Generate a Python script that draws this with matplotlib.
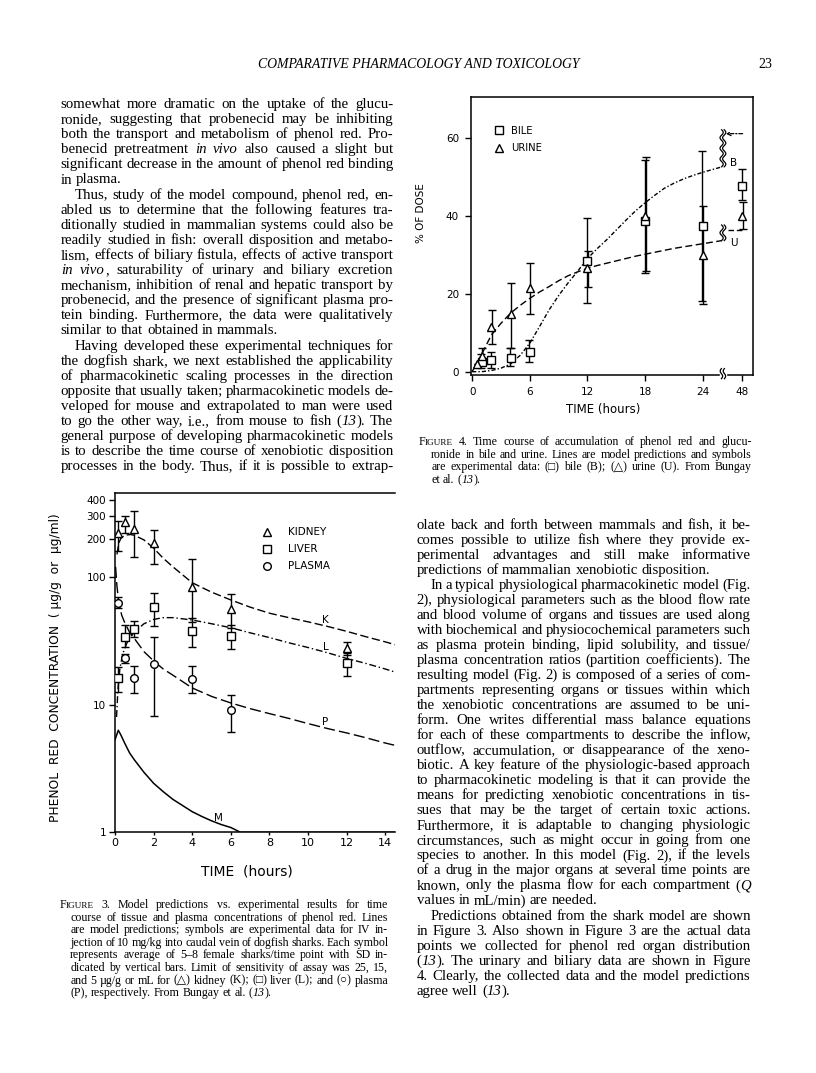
import numpy as np
import matplotlib
matplotlib.use("Agg")
import matplotlib.pyplot as plt
from matplotlib.font_manager import FontProperties

W, H = 816, 1073
SERIF = ["Liberation Serif", "DejaVu Sans"]
SANS = ["DejaVu Sans"]

# ----- Figure 3: phenol red concentration (log scale) -----------------------
KID_T = [0.17, 0.5, 1, 2, 4, 6, 12]
KID_V = [220, 267, 237, 183, 84, 56, 28]
KID_LO = [160, 222, 143, 127, 44, 40, 24.5]
KID_HI = [275, 300, 326, 232, 137, 74, 31]

LIV_T = [0.17, 0.5, 1, 2, 4, 6, 12]
LIV_V = [16.3, 34, 39, 57.7, 37.9, 34.6, 21.3]
LIV_LO = [12.6, 28.3, 34, 41, 28.3, 27.1, 16.7]
LIV_HI = [19.8, 42, 45.2, 75, 47.4, 42, 25.2]

PLA_T = [0.17, 0.5, 1, 2, 4, 6]
PLA_V = [63, 23, 16.2, 20.8, 15.8, 9.1]
PLA_LO = [56.8, 21, 12.4, 8.1, 12.3, 6.1]
PLA_HI = [70, 25, 20.2, 34, 20, 11.9]

K_T = [0.1, 0.2, 0.3, 0.5, 0.8, 1.0, 1.5, 2, 2.5, 3, 4, 5, 6, 7, 8, 9, 10, 11, 12, 13, 14, 14.5]
K_V = [150, 185, 200, 212, 215, 212, 195, 168, 140, 120, 90, 76, 66, 58, 52, 48, 44.5, 41, 37.5, 34, 31, 29.5]
L_T = [0.08, 0.15, 0.25, 0.4, 0.6, 0.8, 1.0, 1.5, 2, 2.5, 3, 4, 5, 6, 7, 8, 9, 10, 11, 12, 13, 14, 14.5]
L_V = [8, 13, 19, 25, 30, 34, 37, 43, 46.5, 48, 48, 46, 43, 40, 36.5, 33.5, 30.5, 28, 25.5, 23, 21, 19, 18]
P_T = [0.03, 0.1, 0.2, 0.35, 0.5, 0.75, 1, 1.5, 2, 2.5, 3, 4, 5, 6, 7, 8, 9, 10, 11, 12, 13, 14, 14.5]
P_V = [120, 85, 62, 50, 44, 37, 33, 26, 22, 19, 17, 13.5, 11.6, 10.3, 9.3, 8.5, 7.8, 7.1, 6.5, 6, 5.5, 5, 4.8]
M_T = [0, 0.17, 0.3, 0.5, 0.75, 1, 1.5, 2, 2.5, 3, 3.5, 4, 4.5, 5, 5.5, 6, 6.5, 14.5]
M_V = [5.3, 6.3, 5.8, 5.0, 4.2, 3.7, 2.95, 2.42, 2.08, 1.81, 1.62, 1.45, 1.33, 1.23, 1.15, 1.09, 1.0, 1.0]

# ----- Figure 4: % of dose in bile and urine --------------------------------
BILE_T = [1, 2, 4, 6, 12, 18, 24, 48]
BILE_V = [2.5, 3, 3.4, 5, 28.4, 38.7, 37.4, 47.7]
BILE_LO = [1, 1, 1.5, 2.5, 17.5, 25.3, 18, 44]
BILE_HI = [4.5, 5, 6, 8, 39.3, 54.3, 56.5, 51.9]

URI_T = [0.5, 1, 2, 4, 6, 12, 18, 24, 48]
URI_V = [2, 4, 11.5, 14.7, 21.4, 26.6, 40, 30, 40]
URI_LO = [2, 2.3, 7, 6, 14.7, 21.7, 25.7, 17.3, 36.5]
URI_HI = [2, 6, 15.8, 22.8, 27.9, 31, 55, 42.5, 43.5]

CURVE_T = [0, 1, 2, 3, 4, 5, 6, 7, 8, 9, 10, 11, 12, 13, 14, 15, 16, 17, 18,
           19, 20, 21, 22, 23, 24, 25, 26]
B_V = [0, 0, 0.3, 0.9, 2.0, 4.2, 7.3, 11.5, 15.8, 19.5, 22.8, 25.8, 29, 31.5,
       33.8, 36.3, 38.8, 41.2, 43.3, 45.2, 47, 48.3, 49.4, 50.3, 51.1, 51.8, 52.5]
U_V = [0, 4.5, 9.4, 12.4, 15, 17, 18.8, 20.4, 21.8, 23.3, 24.6, 25.6, 26.5,
       27.2, 27.8, 28.4, 29, 29.6, 30.1, 30.6, 31.1, 31.6, 32, 32.4, 32.8, 33.2, 33.6]
B_INF, U_INF = 61, 36.3
TICKS4 = [0, 6, 12, 18, 24, 48]

BREAK_AT, POS_48 = 26.1, 28.1

# ----- page text --------------------------------------------------------------
HEADER = "COMPARATIVE PHARMACOLOGY AND TOXICOLOGY"
PAGE_NO = "23"

LEFT_TEXT = [
    "somewhat more dramatic on the uptake of the glucu-",
    "ronide, suggesting that probenecid may be inhibiting",
    "both the transport and metabolism of phenol red. Pro-",
    "benecid pretreatment *in* *vivo* also caused a slight but",
    "significant decrease in the amount of phenol red binding",
    "in plasma.|",
    ">Thus, study of the model compound, phenol red, en-",
    "abled us to determine that the following features tra-",
    "ditionally studied in mammalian systems could also be",
    "readily studied in fish: overall disposition and metabo-",
    "lism, effects of biliary fistula, effects of active transport",
    "*in* *vivo*, saturability of urinary and biliary excretion",
    "mechanism, inhibition of renal and hepatic transport by",
    "probenecid, and the presence of significant plasma pro-",
    "tein binding. Furthermore, the data were qualitatively",
    "similar to that obtained in mammals.|",
    ">Having developed these experimental techniques for",
    "the dogfish shark, we next established the applicability",
    "of pharmacokinetic scaling processes in the direction",
    "opposite that usually taken; pharmacokinetic models de-",
    "veloped for mouse and extrapolated to man were used",
    "to go the other way, i.e., from mouse to fish (*13*). The",
    "general purpose of developing pharmacokinetic models",
    "is to describe the time course of xenobiotic disposition",
    "processes in the body. Thus, if it is possible to extrap-",
]

RIGHT_TEXT = [
    "olate back and forth between mammals and fish, it be-",
    "comes possible to utilize fish where they provide ex-",
    "perimental advantages and still make informative",
    "predictions of mammalian xenobiotic disposition.|",
    ">In a typical physiological pharmacokinetic model (Fig.",
    "2), physiological parameters such as the blood flow rate",
    "and blood volume of organs and tissues are used along",
    "with biochemical and physiocochemical parameters such",
    "as plasma protein binding, lipid solubility, and tissue/",
    "plasma concentration ratios (partition coefficients). The",
    "resulting model (Fig. 2) is composed of a series of com-",
    "partments representing organs or tissues within which",
    "the xenobiotic concentrations are assumed to be uni-",
    "form. One writes differential mass balance equations",
    "for each of these compartments to describe the inflow,",
    "outflow, accumulation, or disappearance of the xeno-",
    "biotic. A key feature of the physiologic-based approach",
    "to pharmacokinetic modeling is that it can provide the",
    "means for predicting xenobiotic concentrations in tis-",
    "sues that may be the target of certain toxic actions.",
    "Furthermore, it is adaptable to changing physiologic",
    "circumstances, such as might occur in going from one",
    "species to another. In this model (Fig. 2), if the levels",
    "of a drug in the major organs at several time points are",
    "known, only the plasma flow for each compartment (*Q*",
    "values in mL/min) are needed.|",
    ">Predictions obtained from the shark model are shown",
    "in Figure 3. Also shown in Figure 3 are the actual data",
    "points we collected for phenol red organ distribution",
    "(*13*). The urinary and biliary data are shown in Figure",
    "4. Clearly, the collected data and the model predictions",
    "agree well (*13*).|",
]

CAP3 = [
    "F^IGURE^ 3.  Model predictions vs. experimental results for time",
    "course of tissue and plasma concentrations of phenol red. Lines",
    "are model predictions; symbols are experimental data for IV in-",
    "jection of 10 mg/kg into caudal vein of dogfish sharks. Each symbol",
    "represents average of 5–8 female sharks/time point with SD in-",
    "dicated by vertical bars. Limit of sensitivity of assay was 25, 15,",
    "and 5 µg/g or mL for (△) kidney (K); (□) liver (L); and (○) plasma",
    "(P), respectively. From Bungay et al. (*13*).|",
]

CAP4 = [
    "F^IGURE^ 4.  Time course of accumulation of phenol red and glucu-",
    "ronide in bile and urine. Lines are model predictions and symbols",
    "are experimental data: (□) bile (B); (△) urine (U). From Bungay",
    "et al. (*13*).|",
]


fig = plt.figure(figsize=(W / 100, H / 100), dpi=100)
fig.patch.set_facecolor("white")
renderer = fig.canvas.get_renderer()


def axes_px(l, t, r, b):
    return fig.add_axes([l / W, 1 - b / H, (r - l) / W, (b - t) / H])


def fprop(size, style):
    if style == "i":
        return FontProperties(family=SERIF, style="italic", size=size)
    if style == "s":
        return FontProperties(family=SERIF, size=size * 0.78)
    return FontProperties(family=SERIF, size=size)


def parse_word(word):
    segs, cur, style = [], "", "n"
    for ch in word:
        if ch in "*^":
            if cur:
                segs.append((cur, style))
            cur = ""
            new = "i" if ch == "*" else "s"
            style = "n" if style == new else new
        else:
            cur += ch
    if cur:
        segs.append((cur, style))
    return segs


def text_w(s, fp):
    return renderer.get_text_width_height_descent(s, fp, ismath=False)[0]


def prep(lines, x0, size, para_indent, first_indent, rest_indent):
    out = []
    for i, raw in enumerate(lines):
        start = raw.startswith(">")
        end = raw.endswith("|")
        s = raw.strip(">|")
        left = x0 + (para_indent if start else 0) + (first_indent if i == 0 else rest_indent)
        words = [parse_word(w) for w in s.split(" ") if w]
        widths = [sum(text_w(t, fprop(size, st)) for t, st in w) for w in words]
        out.append((left, end, words, widths))
    return out


def draw_block(lines, x0, x1, y0, lead, size, para_indent=14, first_indent=0, rest_indent=0):
    sp = text_w("n n", fprop(size, "n")) - text_w("nn", fprop(size, "n"))
    rows = prep(lines, x0, size, para_indent, first_indent, rest_indent)
    worst = max((sum(w) + 0.8 * sp * (len(w) - 1)) / (x1 - left)
                for left, end, words, w in rows if not end)
    if worst > 1:
        size = size / worst
        sp = text_w("n n", fprop(size, "n")) - text_w("nn", fprop(size, "n"))
        rows = prep(lines, x0, size, para_indent, first_indent, rest_indent)
    for i, (left, end, words, widths) in enumerate(rows):
        y = y0 + i * lead
        gap = sp
        if not end and len(words) > 1:
            gap = (x1 - left - sum(widths)) / (len(words) - 1)
        x = left
        for word, ww in zip(words, widths):
            xx = x
            for t, st in word:
                fp = fprop(size, st)
                fig.text(xx / W, 1 - y / H, t, fontproperties=fp, va="baseline", ha="left")
                xx += text_w(t, fp)
            x += ww + gap


def squiggle(ax, x, y0, y1, n, amp=1.6, dx=0.0, lw=0.9):
    # decorative axis-break wave, drawn in display pixels
    p0 = ax.transData.transform((x, y0))
    p1 = ax.transData.transform((x, y1))
    s = np.linspace(0, 1, 80)
    xs = p0[0] + dx + amp * np.sin(s * n * 2 * np.pi)
    ys = p0[1] + (p1[1] - p0[1]) * s
    fig.add_artist(plt.Line2D(xs / W, ys / H, color="k", lw=lw, transform=fig.transFigure))


def errs(v, lo, hi):
    v, lo, hi = map(np.asarray, (v, lo, hi))
    return [v - lo, hi - v]


# ----- page text -------------------------------------------------------------
fig.text(258 / W, 1 - 68 / H, HEADER, fontproperties=FontProperties(family=SERIF, style="italic", size=9.9),
         va="baseline", ha="left")
fig.text(772 / W, 1 - 68 / H, PAGE_NO, fontproperties=FontProperties(family=SERIF, size=10),
         va="baseline", ha="right")
draw_block(LEFT_TEXT, 60.7, 393.3, 108, 15.1, 11)
draw_block(RIGHT_TEXT, 416.7, 750.7, 529, 15.02, 11)
draw_block(CAP3, 59.3, 388.3, 908, 12.6, 8.6, para_indent=0, rest_indent=11)
draw_block(CAP4, 418.3, 751.7, 445, 12.6, 8.6, para_indent=0, rest_indent=13)

# ----- Figure 3 ----------------------------------------------------------------
ax3 = axes_px(115, 493.3, 395, 832.3)
ax3.set_yscale("log")
ax3.set_xlim(0, 14.5)
ax3.set_ylim(1, 452)
mk = dict(ls="none", mfc="white", mec="k", mew=1.0, ms=5.5, zorder=4)
eb = dict(fmt="none", ecolor="k", elinewidth=1.0, capsize=3, capthick=1.0, zorder=3)
ax3.plot(K_T, K_V, color="k", lw=1.0, dashes=(6, 2.5))
ax3.plot(L_T, L_V, color="k", lw=1.0, dashes=(5, 2, 1, 2))
ax3.plot(P_T, P_V, color="k", lw=1.0, dashes=(8, 3))
ax3.plot(M_T, M_V, color="k", lw=1.1, clip_on=True)
ax3.errorbar(KID_T, KID_V, yerr=errs(KID_V, KID_LO, KID_HI), **eb)
ax3.errorbar(LIV_T, LIV_V, yerr=errs(LIV_V, LIV_LO, LIV_HI), **eb)
ax3.errorbar(PLA_T, PLA_V, yerr=errs(PLA_V, PLA_LO, PLA_HI), **eb)
hk, = ax3.plot(KID_T, KID_V, marker="^", label="KIDNEY", **mk)
hl, = ax3.plot(LIV_T, LIV_V, marker="s", label="LIVER", **mk)
hp, = ax3.plot(PLA_T, PLA_V, marker="o", label="PLASMA", **mk)
ax3.legend(handles=[hk, hl, hp], loc="upper left", bbox_to_anchor=(0.529, 0.9), frameon=False,
           fontsize=7.5, handlelength=0.8, handletextpad=1.6, labelspacing=0.67,
           borderpad=0, borderaxespad=0)
lab = dict(fontsize=7.5, ha="center", va="center")
ax3.text(10.9, 45.9, "K", **lab)
ax3.text(10.9, 28.4, "L", **lab)
ax3.text(10.9, 7.35, "P", **lab)
ax3.text(5.35, 1.29, "M", **lab)
ax3.set_yticks([1, 10, 100, 200, 300, 400])
ax3.set_yticklabels(["1", "10", "100", "200", "300", "400"])
ax3.yaxis.set_minor_locator(matplotlib.ticker.NullLocator())
ax3.set_xticks(range(0, 15, 2))
ax3.tick_params(axis="y", direction="out", length=4.5, width=1, labelsize=7.5, pad=2)
ax3.tick_params(axis="x", direction="out", length=2, width=1, labelsize=8, pad=2)
for sp in ax3.spines.values():
    sp.set_linewidth(1.1)
ax3.spines["right"].set_visible(False)
fig.text(56 / W, 1 - 667.5 / H, "PHENOL  RED  CONCENTRATION  ( µg/g  or  µg/ml)", rotation=90,
         ha="center", va="center", fontsize=8.8, family=SANS)
fig.text(247 / W, 1 - 871.7 / H, "TIME  (hours)", ha="center", va="center", fontsize=10, family=SANS)

# ----- Figure 4 ----------------------------------------------------------------
def tpos(t):
    t = np.asarray(t, dtype=float)
    return np.where(t > BREAK_AT, POS_48, t)


ax4 = axes_px(470.7, 97, 752.7, 375)
ax4.set_xlim(-0.15, 29.2)
ax4.set_ylim(-0.85, 70.4)
ax4.plot(CURVE_T, B_V, color="k", lw=1.0, dashes=(3, 1.5, 1, 1.5))
ax4.plot(CURVE_T, U_V, color="k", lw=1.0, dashes=(5, 2.5))
ax4.plot([26.6, POS_48 + 0.05], [U_INF, U_INF], color="k", lw=1.0, dashes=(4, 2))
ax4.annotate("", xy=(26.4, B_INF), xytext=(POS_48 + 0.05, B_INF),
             arrowprops=dict(arrowstyle="->", lw=0.9, linestyle=(0, (3, 1.5, 1, 1.5)),
                             shrinkA=0, shrinkB=0, mutation_scale=7))
ax4.errorbar(tpos(BILE_T) - 0.06, BILE_V, yerr=errs(BILE_V, BILE_LO, BILE_HI), **eb)
ax4.errorbar(tpos(URI_T) + 0.06, URI_V, yerr=errs(URI_V, URI_LO, URI_HI), **eb)
hb, = ax4.plot(tpos(BILE_T), BILE_V, marker="s", label="BILE", **mk)
hu, = ax4.plot(tpos(URI_T), URI_V, marker="^", label="URINE", **mk)
ax4.legend(handles=[hb, hu], loc="upper left", bbox_to_anchor=(0.0855, 0.897), frameon=False,
           fontsize=7.2, handlelength=0.8, handletextpad=0.8, labelspacing=0.75,
           borderpad=0, borderaxespad=0)
ax4.text(27.2, 53.4, "B", fontsize=7.5, ha="center", va="center")
ax4.text(27.2, 33.0, "U", fontsize=7.5, ha="center", va="center")
ax4.set_xticks(tpos(TICKS4))
ax4.set_xticklabels([str(t) for t in TICKS4])
ax4.set_yticks([0, 20, 40, 60])
ax4.tick_params(direction="out", length=4.5, width=1, labelsize=7.5, pad=4)
for sp in ax4.spines.values():
    sp.set_linewidth(1.1)
fig.text(603 / W, 1 - 410 / H, "TIME (hours)", ha="center", va="center", fontsize=8.5, family=SANS)
fig.text(421 / W, 1 - 213 / H, "% OF DOSE", rotation=90, ha="center", va="center", fontsize=7.5,
         family=SANS)

# axis-break marks
squiggle(ax4, BREAK_AT, B_V[-1], 62, 3.5, dx=-1.3)
squiggle(ax4, BREAK_AT, B_V[-1], 62, 3.5, dx=1.3)
squiggle(ax4, BREAK_AT, U_V[-1], 37.6, 1.5, dx=-1.3)
squiggle(ax4, BREAK_AT, U_V[-1], 37.6, 1.5, dx=1.3)
ax4.add_patch(plt.Rectangle((BREAK_AT - 0.35, -2), 0.7, 2.5, color="white", clip_on=False, zorder=5))
squiggle(ax4, BREAK_AT, -1.8, 0.8, 1, amp=1.2, dx=-1.5)
squiggle(ax4, BREAK_AT, -1.8, 0.8, 1, amp=1.2, dx=1.5)

fig.savefig("out.png", dpi=100, facecolor="white")
